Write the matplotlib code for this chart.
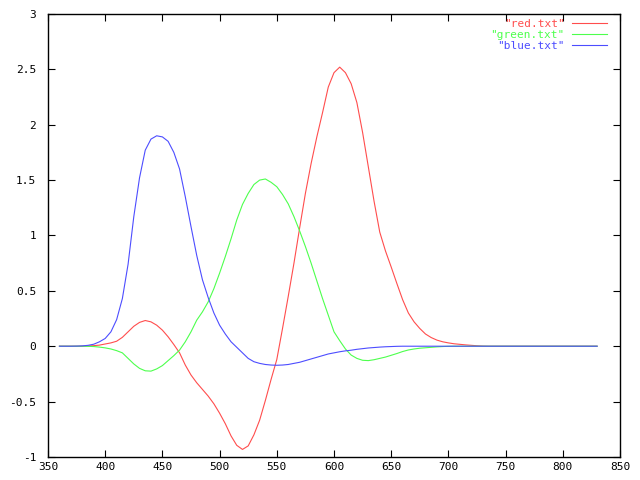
import matplotlib
matplotlib.use("Agg")
import matplotlib.pyplot as plt
import numpy as np

# wavelengths, 5 nm steps
wl = list(range(360, 835, 5))

red = [0, 0, 0, 0, 0, 0.002, 0.005, 0.01, 0.02, 0.03,           # 360-405
       0.045, 0.08, 0.13, 0.18, 0.215, 0.232, 0.22, 0.19, 0.145, 0.085,  # 410-455
       0.015, -0.06, -0.17, -0.26, -0.33, -0.39, -0.45, -0.52, -0.605, -0.70,  # 460-505
       -0.81, -0.895, -0.932, -0.90, -0.80, -0.668, -0.49, -0.30, -0.12, 0.16,  # 510-555
       0.45, 0.75, 1.07, 1.38, 1.65, 1.89, 2.11, 2.34, 2.47, 2.52,  # 560-605
       2.47, 2.37, 2.20, 1.93, 1.62, 1.31, 1.03, 0.86, 0.715, 0.565,  # 610-655
       0.42, 0.30, 0.22, 0.16, 0.11, 0.078, 0.055, 0.04, 0.03, 0.022,  # 660-705
       0.017, 0.012, 0.008, 0.004, 0.001] + [0] * 20  # 710-830

green = [0, 0, 0, 0, 0, -0.001, -0.003, -0.008, -0.015, -0.025,
         -0.04, -0.06, -0.11, -0.16, -0.20, -0.222, -0.225, -0.205, -0.175, -0.13,
         -0.085, -0.035, 0.04, 0.13, 0.235, 0.31, 0.40, 0.52, 0.66, 0.81,
         0.97, 1.14, 1.28, 1.38, 1.46, 1.50, 1.51, 1.48, 1.44, 1.37,
         1.285, 1.17, 1.04, 0.90, 0.75, 0.59, 0.43, 0.28, 0.13, 0.05,
         -0.025, -0.08, -0.11, -0.127, -0.13, -0.122, -0.11, -0.098, -0.082, -0.066,
         -0.048, -0.034, -0.025, -0.018, -0.014, -0.01, -0.006, -0.003, -0.001, 0] + [0] * 25

blue = [0, 0, 0, 0.001, 0.003, 0.008, 0.018, 0.04, 0.07, 0.13,
        0.24, 0.43, 0.74, 1.17, 1.52, 1.77, 1.87, 1.90, 1.89, 1.85,
        1.75, 1.60, 1.35, 1.08, 0.82, 0.60, 0.44, 0.30, 0.19, 0.11,
        0.04, -0.01, -0.06, -0.11, -0.14, -0.155, -0.165, -0.17, -0.172, -0.17,
        -0.165, -0.155, -0.145, -0.13, -0.115, -0.10, -0.085, -0.07, -0.06, -0.05,
        -0.042, -0.036, -0.028, -0.022, -0.016, -0.012, -0.008, -0.005, -0.003, -0.001] + [0] * 35

labels = ['"red.txt"', '"green.txt"', '"blue.txt"']
colors = ['#ff4d4d', '#4dff4d', '#4d4dff']

plt.rcParams['font.family'] = 'DejaVu Sans Mono'
plt.rcParams['font.size'] = 8

fig = plt.figure(figsize=(6.4, 4.8), dpi=100)
ax = fig.add_axes([0.075, 0.048, 0.89375, 0.9229])

for ys, lab, c in zip([red, green, blue], labels, colors):
    ax.plot(wl, ys, color=c, lw=0.8, label=lab)

ax.set_xlim(350, 850)
ax.set_ylim(-1, 3)
ax.set_xticks(np.arange(350, 851, 50))
ax.set_yticks(np.arange(-1, 3.01, 0.5))
ax.set_yticklabels(['-1', '-0.5', '0', '0.5', '1', '1.5', '2', '2.5', '3'])
ax.tick_params(direction='in', length=5, width=0.8, top=True, right=True)
ax.tick_params(axis='x', pad=3.5)
ax.tick_params(axis='y', pad=8.5)
for s in ax.spines.values():
    s.set_linewidth(1)

ax.legend(loc='upper right', bbox_to_anchor=(0.977, 0.989), frameon=False,
          markerfirst=False, labelcolor='linecolor',
          handlelength=3.1, handletextpad=0.7, labelspacing=0.1,
          borderaxespad=0, borderpad=0, fontsize=8)

fig.savefig('out.png', dpi=100)
